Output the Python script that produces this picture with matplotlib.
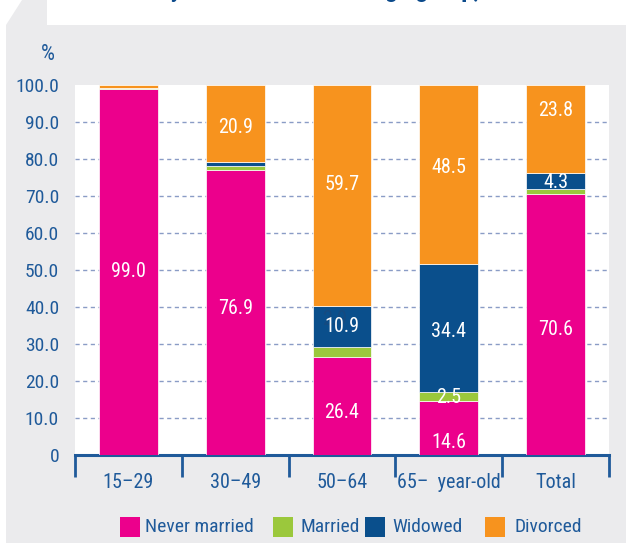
import matplotlib
matplotlib.use('Agg')
import matplotlib.pyplot as plt
from matplotlib import font_manager
from matplotlib.patches import Polygon, Rectangle
import numpy as np

# data
groups = ['15\u201329', '30\u201349', '50\u201364', '65\u2013  year-old', 'Total']
series = ['Never married', 'Married', 'Widowed', 'Divorced']
never_married = [99.0, 76.9, 26.4, 14.6, 70.6]
married = [0.1, 1.3, 2.9, 2.5, 1.3]
widowed = [0.0, 0.9, 10.9, 34.4, 4.3]
divorced = [0.9, 20.9, 59.7, 48.5, 23.8]
yticks = [0, 10, 20, 30, 40, 50, 60, 70, 80, 90, 100]
ytick_labels = ['0', '10.0', '20.0', '30.0', '40.0', '50.0', '60.0', '70.0', '80.0', '90.0', '100.0']

colors = ['#EC008C', '#9BC83C', '#0A4F8C', '#F7931E']
navy = '#1F5A9A'
bg = '#EBEBED'

# pick a narrow font if there is one
names = {f.name for f in font_manager.fontManager.ttflist}
font = 'DejaVu Sans'
for cand in ['Liberation Sans Narrow', 'Roboto Condensed', 'Open Sans Condensed']:
    if cand in names:
        font = cand
        break
plt.rcParams['font.family'] = [font, 'DejaVu Sans']

W, H = 626, 543
fig = plt.figure(figsize=(W / 100, H / 100), dpi=100)
fig.patch.set_facecolor('white')

def fx(x): return x / W
def fy(y): return 1 - y / H

# grey panel with a slanted tab at the top-left
panel = Polygon([(fx(22), fy(0)), (fx(47), fy(0)), (fx(47), fy(25)), (1, fy(25)),
                 (1, 0), (fx(6), 0), (fx(6), fy(25))],
                closed=True, transform=fig.transFigure, facecolor=bg, edgecolor='none', zorder=-5)
fig.patches.append(panel)

# title, mostly cut off by the top edge
fig.text(fx(158), fy(-3), 'by marital status and age group, 2015', ha='left', va='baseline',
         fontsize=18, fontweight='bold', color='#0B4A8B', zorder=-4)

ax = fig.add_axes([fx(75), fy(455), (609 - 75) / W, (455 - 85) / H])
ax.set_facecolor('white')

x = np.arange(len(groups))
data = [never_married, married, widowed, divorced]
bottom = np.zeros(len(groups))
for vals, c in zip(data, colors):
    ax.bar(x, vals, 0.55, bottom=bottom, color=c, edgecolor='white', linewidth=0.5, zorder=3)
    bottom += np.array(vals)

# value labels (series index, group index, nudge in %)
labels = [(0, 0, 0), (0, 1, 1.2), (3, 1, -1.1),
          (0, 2, -1.6), (2, 2, 0), (3, 2, 3.0),
          (0, 3, -3.8), (1, 3, -0.4), (2, 3, -1.0), (3, 3, 2.0),
          (0, 4, -1.5), (2, 4, -0.5), (3, 4, 5.0)]
cum = np.cumsum(np.array(data), axis=0)
for s, g, nudge in labels:
    v = data[s][g]
    mid = cum[s][g] - v / 2 + nudge
    ax.text(x[g], mid, f'{v:.1f}', ha='center', va='center', color='white', fontsize=14.5, zorder=5)
# married label of 50-64 that hides behind the widowed block
ax.text(x[2] - 0.07, cum[2][2] - 3.5, f'{married[2]:.1f}', ha='center', va='center',
        color='#154a80', fontsize=14.5, zorder=4)

ax.set_xlim(-0.5, len(groups) - 0.5)
ax.set_ylim(0, 100)
ax.set_yticks(yticks)
ax.set_yticklabels(ytick_labels)
ax.tick_params(axis='y', length=0, pad=11.5, labelsize=14, labelcolor=navy)
for y in yticks[1:-1]:
    ax.axhline(y, color='#8A9CC6', linewidth=1.0, linestyle=(0, (3, 2.5)), zorder=1)

ax.set_xticks(np.arange(-0.5, len(groups), 1.0))
ax.set_xticklabels([])
ax.set_xticks(x, minor=True)
ax.set_xticklabels(groups, minor=True)
ax.tick_params(axis='x', which='major', direction='out', length=16, width=2, color=navy)
ax.tick_params(axis='x', which='minor', length=0, pad=13, labelsize=14.5, labelcolor=navy)
for sp in ['top', 'right', 'left']:
    ax.spines[sp].set_visible(False)
ax.spines['bottom'].set_color(navy)
ax.spines['bottom'].set_linewidth(2.2)

fig.text(fx(48), fy(54), '%', ha='center', va='center', fontsize=16, color=navy)

# legend
box_x = [120, 273, 365, 485]
text_x = [145, 301, 392, 515]
for name, c, bx, tx in zip(series, colors, box_x, text_x):
    fig.patches.append(Rectangle((fx(bx), fy(537)), 20 / W, 20 / H, transform=fig.transFigure,
                                 facecolor=c, edgecolor='none'))
    fig.text(fx(tx), fy(527), name, ha='left', va='center', fontsize=14, color=navy)

fig.savefig('out.png', dpi=100, facecolor=fig.get_facecolor())
